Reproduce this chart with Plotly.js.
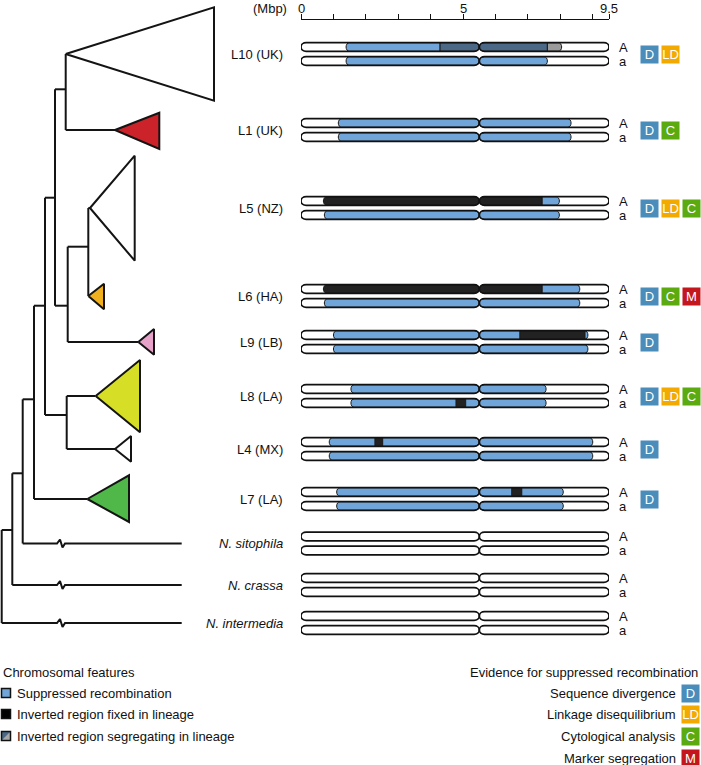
<!DOCTYPE html>
<html><head><meta charset="utf-8">
<script src="https://cdn.plot.ly/plotly-3.0.1.min.js"></script>
<style>body{margin:0;padding:0;background:#fff}#chart{width:701px;height:765px}</style>
</head><body><div id="chart"></div>
<script>
// ================= DATA =================
const lineages = ['L10 (UK)','L1 (UK)','L5 (NZ)','L6 (HA)','L9 (LB)','L8 (LA)','L4 (MX)','L7 (LA)','N. sitophila','N. crassa','N. intermedia'];
const outgroups = ['N. sitophila','N. crassa','N. intermedia'];
const haplotypes = ['A','a'];
const chromLength = 9.5;   // Mbp
const centromere = 5.5;    // Mbp
const axisTicks = [0,1,2,3,4,5,6,7,8,9,9.5];
const axisTickLabels = ['0','','','','','5','','','','','9.5'];

// chromosome regions (Mbp). S = suppressed recombination, F = inversion fixed,
// G = inversion segregating, g = segregating (grey part)
const regLineage = ['L10 (UK)','L10 (UK)','L10 (UK)','L10 (UK)',
  'L1 (UK)','L1 (UK)',
  'L5 (NZ)','L5 (NZ)','L5 (NZ)',
  'L6 (HA)','L6 (HA)','L6 (HA)',
  'L9 (LB)','L9 (LB)','L9 (LB)',
  'L8 (LA)','L8 (LA)','L8 (LA)',
  'L4 (MX)','L4 (MX)','L4 (MX)',
  'L7 (LA)','L7 (LA)','L7 (LA)'];
const regHap = ['A','A','A','a',
  'A','a',
  'A','A','a',
  'A','A','a',
  'A','A','a',
  'A','a','a',
  'A','A','a',
  'A','A','a'];
const regStart = [1.39,4.29,7.60,1.39,
  1.15,1.15,
  0.69,7.44,0.72,
  0.69,7.44,0.72,
  1.00,6.75,1.00,
  1.54,1.54,4.78,
  0.87,2.28,0.87,
  1.10,6.50,1.10];
const regEnd = [4.29,7.60,8.04,7.60,
  8.33,8.33,
  7.44,7.97,7.97,
  7.44,8.60,8.60,
  8.85,8.76,8.85,
  7.56,7.56,5.08,
  9.00,2.52,9.00,
  8.09,6.81,8.09];
const regType = ['S','G','g','S',
  'S','S',
  'F','S','S',
  'F','S','S',
  'S','F','S',
  'S','S','F',
  'S','F','S',
  'S','F','S'];

// evidence badges
const evidenceLineage = ['L10 (UK)','L1 (UK)','L5 (NZ)','L6 (HA)','L9 (LB)','L8 (LA)','L4 (MX)','L7 (LA)'];
const evidenceCodes = [['D','LD'],['D','C'],['D','LD','C'],['D','C','M'],['D'],['D','LD','C'],['D'],['D']];
const evidenceKeys = ['D','LD','C','M'];
const evidenceNames = ['Sequence divergence','Linkage disequilibrium','Cytological analysis','Marker segregation'];

// legend of chromosomal features
const featureNames = ['Suppressed recombination','Inverted region fixed in lineage','Inverted region segregating in lineage'];

// tree topology
const treeNodeNames = ['n1','nG','nF','nA','n84','nB','nC','nD','nE','root'];
const treeNodeChildren = [['L10 (UK)','L1 (UK)'],['L5 (NZ)','L6 (HA)'],['nG','L9 (LB)'],['n1','nF'],
  ['L8 (LA)','L4 (MX)'],['nA','n84'],['nB','L7 (LA)'],['nC','N. sitophila'],['nD','N. crassa'],['nE','N. intermedia']];

// ================= LAYOUT / STYLE =================
const FONT = 'Liberation Sans, Arial, Helvetica, sans-serif';
const rowMid = [54,130,208,296,342,396,449,499,543.5,585,623];
const hapOff = 7;
const barH = 4.3;
const armRx = 0.16, segRx = 0.10;
const typeColor = {S:'#70a5d9', F:'#222222', G:'#4b6887', g:'#9b9b9b'};
const badgeColor = {D:'#4a8cba', LD:'#f2aa00', C:'#5aaa10', M:'#c3171d'};
const nodeX = {n1:65.7,nG:88.3,nF:67.7,nA:55,n84:66.7,nB:45,nC:34,nD:22.7,nE:12.3,root:1.7};
const nodeY = {n1:89.3,nG:246.7,nF:305.7,nA:197.7,n84:415,nB:305.7,nC:399.3,nD:473.3,nE:530,root:576};
const tipGeom = { // apexX, rightX, top, bottom, fill
  'L10 (UK)':[65.7,214,7.3,100.7,'#ffffff'],
  'L1 (UK)':[115,159.3,112.7,149,'#cc2229'],
  'L5 (NZ)':[90,134.7,155.7,260.7,'#ffffff'],
  'L6 (HA)':[88.3,104,283.7,309.3,'#f1b11f'],
  'L9 (LB)':[138.3,154,329,354.7,'#e6a2c9'],
  'L8 (LA)':[95.7,140,360,432.3,'#d6df25'],
  'L4 (MX)':[115,131,436,461.7,'#ffffff'],
  'L7 (LA)':[87.3,129,475.3,522,'#4fb848']
};
const outgroupEndX = 181.7;

const yOf = name => rowMid[lineages.indexOf(name)];
const traces = [];
const shapes = [];
const annotations = [];

// ---- tree ----
const lx = [], ly = [];
function childPos(c){
  if (nodeX[c] !== undefined) return [nodeX[c], nodeY[c]];
  return [null, yOf(c)];
}
treeNodeNames.forEach((n,i)=>{
  const x = nodeX[n];
  const ys = treeNodeChildren[i].map(c=>childPos(c)[1]);
  lx.push(x,x,null); ly.push(Math.min(...ys),Math.max(...ys),null);
  treeNodeChildren[i].forEach(c=>{
    const [cx,cy] = childPos(c);
    if (cx !== null) { lx.push(x,cx,null); ly.push(cy,cy,null); }
    else if (tipGeom[c]) { lx.push(x,tipGeom[c][0],null); ly.push(cy,cy,null); }
    else { // outgroup with broken branch
      lx.push(x,57,60,62.5,65,outgroupEndX,null);
      ly.push(cy,cy,cy-4,cy+4,cy,cy,null);
    }
  });
});
traces.push({x:lx,y:ly,mode:'lines',line:{color:'#141414',width:2},hoverinfo:'skip',showlegend:false,xaxis:'x',yaxis:'y'});
Object.keys(tipGeom).forEach(name=>{
  const g = tipGeom[name], cy = yOf(name);
  traces.push({x:[g[0],g[1],g[1],g[0]],y:[cy,g[2],g[3],cy],mode:'lines',fill:'toself',fillcolor:g[4],
    line:{color:'#141414',width:2},hoverinfo:'skip',showlegend:false,xaxis:'x',yaxis:'y'});
});

// ---- lineage labels ----
lineages.forEach((name,i)=>{
  const isOut = outgroups.includes(name);
  annotations.push({x:285,y:rowMid[i],xref:'x',yref:'y',text:isOut?('<i>'+name+'</i>'):name,showarrow:false,
    xanchor:'right',yanchor:'middle',font:{family:FONT,size:13,color:'#111'}});
});

// ---- chromosomes ----
function pathSeg(x0,x1,yc,h,rl,rr){
  const k=0.5523, t=yc-h, b=yc+h;
  let p = `M${x0+rl},${t} L${x1-rr},${t} `;
  if (rr>0) p += `C${x1-rr+k*rr},${t} ${x1},${yc-k*h} ${x1},${yc} C${x1},${yc+k*h} ${x1-rr+k*rr},${b} ${x1-rr},${b} `;
  else p += `L${x1},${b} `;
  p += `L${x0+rl},${b} `;
  if (rl>0) p += `C${x0+rl-k*rl},${b} ${x0},${yc+k*h} ${x0},${yc} C${x0},${yc-k*h} ${x0+rl-k*rl},${t} ${x0+rl},${t} `;
  else p += `L${x0},${t} `;
  return p+'Z';
}
const arms = [[0,centromere],[centromere,chromLength]];
const eps = 1e-6;
lineages.forEach((name,i)=>{
  haplotypes.forEach((hap,hi)=>{
    const yc = rowMid[i] + (hi===0?-hapOff:hapOff);
    arms.forEach(a=>shapes.push({type:'path',xref:'x2',yref:'y',path:pathSeg(a[0],a[1],yc,barH,armRx,armRx),
      fillcolor:'#ffffff',line:{width:0},layer:'above'}));
    const idx = [];
    regLineage.forEach((l,j)=>{ if (l===name && regHap[j]===hap) idx.push(j); });
    const covered = (p,self)=>idx.some(j=>j!==self && regStart[j]-eps<=p && p<=regEnd[j]+eps);
    idx.forEach(j=>{
      arms.forEach(a=>{
        const s = Math.max(regStart[j],a[0]), e = Math.min(regEnd[j],a[1]);
        if (e-s <= eps) return;
        const rl = Math.abs(s-a[0])<eps ? armRx : (covered(s,j)?0:segRx);
        const rr = Math.abs(e-a[1])<eps ? armRx : (covered(e,j)?0:segRx);
        shapes.push({type:'path',xref:'x2',yref:'y',path:pathSeg(s,e,yc,barH,rl,rr),
          fillcolor:typeColor[regType[j]],line:{color:'#1a1a1a',width:1},layer:'above'});
      });
    });
    arms.forEach(a=>shapes.push({type:'path',xref:'x2',yref:'y',path:pathSeg(a[0],a[1],yc,barH,armRx,armRx),
      fillcolor:'rgba(0,0,0,0)',line:{color:'#111',width:1.7},layer:'above'}));
    annotations.push({x:617,y:yc,xref:'x',yref:'y',text:hap,showarrow:false,xanchor:'left',yanchor:'middle',
      font:{family:FONT,size:13,color:'#111'}});
  });
});

// ---- evidence badges ----
function badge(x,y,code){
  annotations.push({x:x,y:y,xref:'x',yref:'y',text:code,showarrow:false,xanchor:'center',yanchor:'middle',
    width:17,height:17,bgcolor:badgeColor[code],borderpad:0,align:'center',valign:'middle',
    font:{family:FONT,size:13,color:'#ffffff'}});
}
evidenceLineage.forEach((name,i)=>{
  evidenceCodes[i].forEach((code,j)=>badge(649.5+21*j, yOf(name), code));
});

// ---- legends ----
annotations.push({x:1,y:672,xref:'x',yref:'y',text:'Chromosomal features',showarrow:false,xanchor:'left',yanchor:'middle',font:{family:FONT,size:13,color:'#111'}});
const legY = [693,714,736];
featureNames.forEach((n,i)=>{
  annotations.push({x:15,y:legY[i],xref:'x',yref:'y',text:n,showarrow:false,xanchor:'left',yanchor:'middle',font:{family:FONT,size:13,color:'#111'}});
});
shapes.push({type:'rect',xref:'x',yref:'y',x0:1.5,x1:10.5,y0:legY[0]-4.5,y1:legY[0]+4.5,fillcolor:typeColor.S,line:{color:'#111',width:1.5}});
shapes.push({type:'rect',xref:'x',yref:'y',x0:1.5,x1:10.5,y0:legY[1]-4.5,y1:legY[1]+4.5,fillcolor:'#000',line:{color:'#111',width:1.5}});
shapes.push({type:'rect',xref:'x',yref:'y',x0:1.5,x1:10.5,y0:legY[2]-4.5,y1:legY[2]+4.5,fillcolor:typeColor.G,line:{width:0}});
shapes.push({type:'path',xref:'x',yref:'y',path:`M10.5,${legY[2]-4.5} L10.5,${legY[2]+4.5} L1.5,${legY[2]+4.5} Z`,fillcolor:'#a8a8a8',line:{width:0}});
shapes.push({type:'rect',xref:'x',yref:'y',x0:1.5,x1:10.5,y0:legY[2]-4.5,y1:legY[2]+4.5,fillcolor:'rgba(0,0,0,0)',line:{color:'#111',width:1.5}});

annotations.push({x:700,y:672,xref:'x',yref:'y',text:'Evidence for suppressed recombination',showarrow:false,xanchor:'right',yanchor:'middle',font:{family:FONT,size:13,color:'#111'}});
const evY = [693,714,736,758];
evidenceKeys.forEach((k,i)=>{
  annotations.push({x:678,y:evY[i],xref:'x',yref:'y',text:evidenceNames[i],showarrow:false,xanchor:'right',yanchor:'middle',font:{family:FONT,size:13,color:'#111'}});
  badge(690.5, evY[i], k);
});

// axis label and tick labels (placed on the Mbp axis)
annotations.push({x:289,y:8.5,xref:'x',yref:'y',text:'(Mbp)',showarrow:false,xanchor:'right',yanchor:'middle',font:{family:FONT,size:13,color:'#111'}});
axisTicks.forEach((t,i)=>{
  if (!axisTickLabels[i]) return;
  annotations.push({x:t,y:8.5,xref:'x2',yref:'y',text:axisTickLabels[i],showarrow:false,xanchor:'center',yanchor:'middle',
    font:{family:FONT,size:13,color:'#111'}});
});

// dummy trace to create the Mbp axis
traces.push({x:[0,chromLength],y:[-50,-50],mode:'markers',marker:{opacity:0},hoverinfo:'skip',showlegend:false,xaxis:'x2',yaxis:'y'});

const layout = {
  width:701,height:765,margin:{l:0,r:0,t:0,b:0},paper_bgcolor:'#fff',plot_bgcolor:'rgba(0,0,0,0)',
  showlegend:false,
  xaxis:{range:[0,701],visible:false,fixedrange:true,domain:[0,1]},
  yaxis:{range:[765,0],visible:false,fixedrange:true,domain:[0,1]},
  xaxis2:{domain:[301/701,609/701],range:[0,chromLength],anchor:'free',position:1-19/765,side:'top',
    tickmode:'array',tickvals:axisTicks,ticktext:axisTickLabels,showticklabels:false,ticks:'outside',ticklen:5,tickwidth:1,tickcolor:'#111',
    showline:true,linecolor:'#111',linewidth:1,showgrid:false,zeroline:false,fixedrange:true},
  shapes:shapes,annotations:annotations
};
Plotly.newPlot('chart',traces,layout,{staticPlot:true,displayModeBar:false});
</script></body></html>
